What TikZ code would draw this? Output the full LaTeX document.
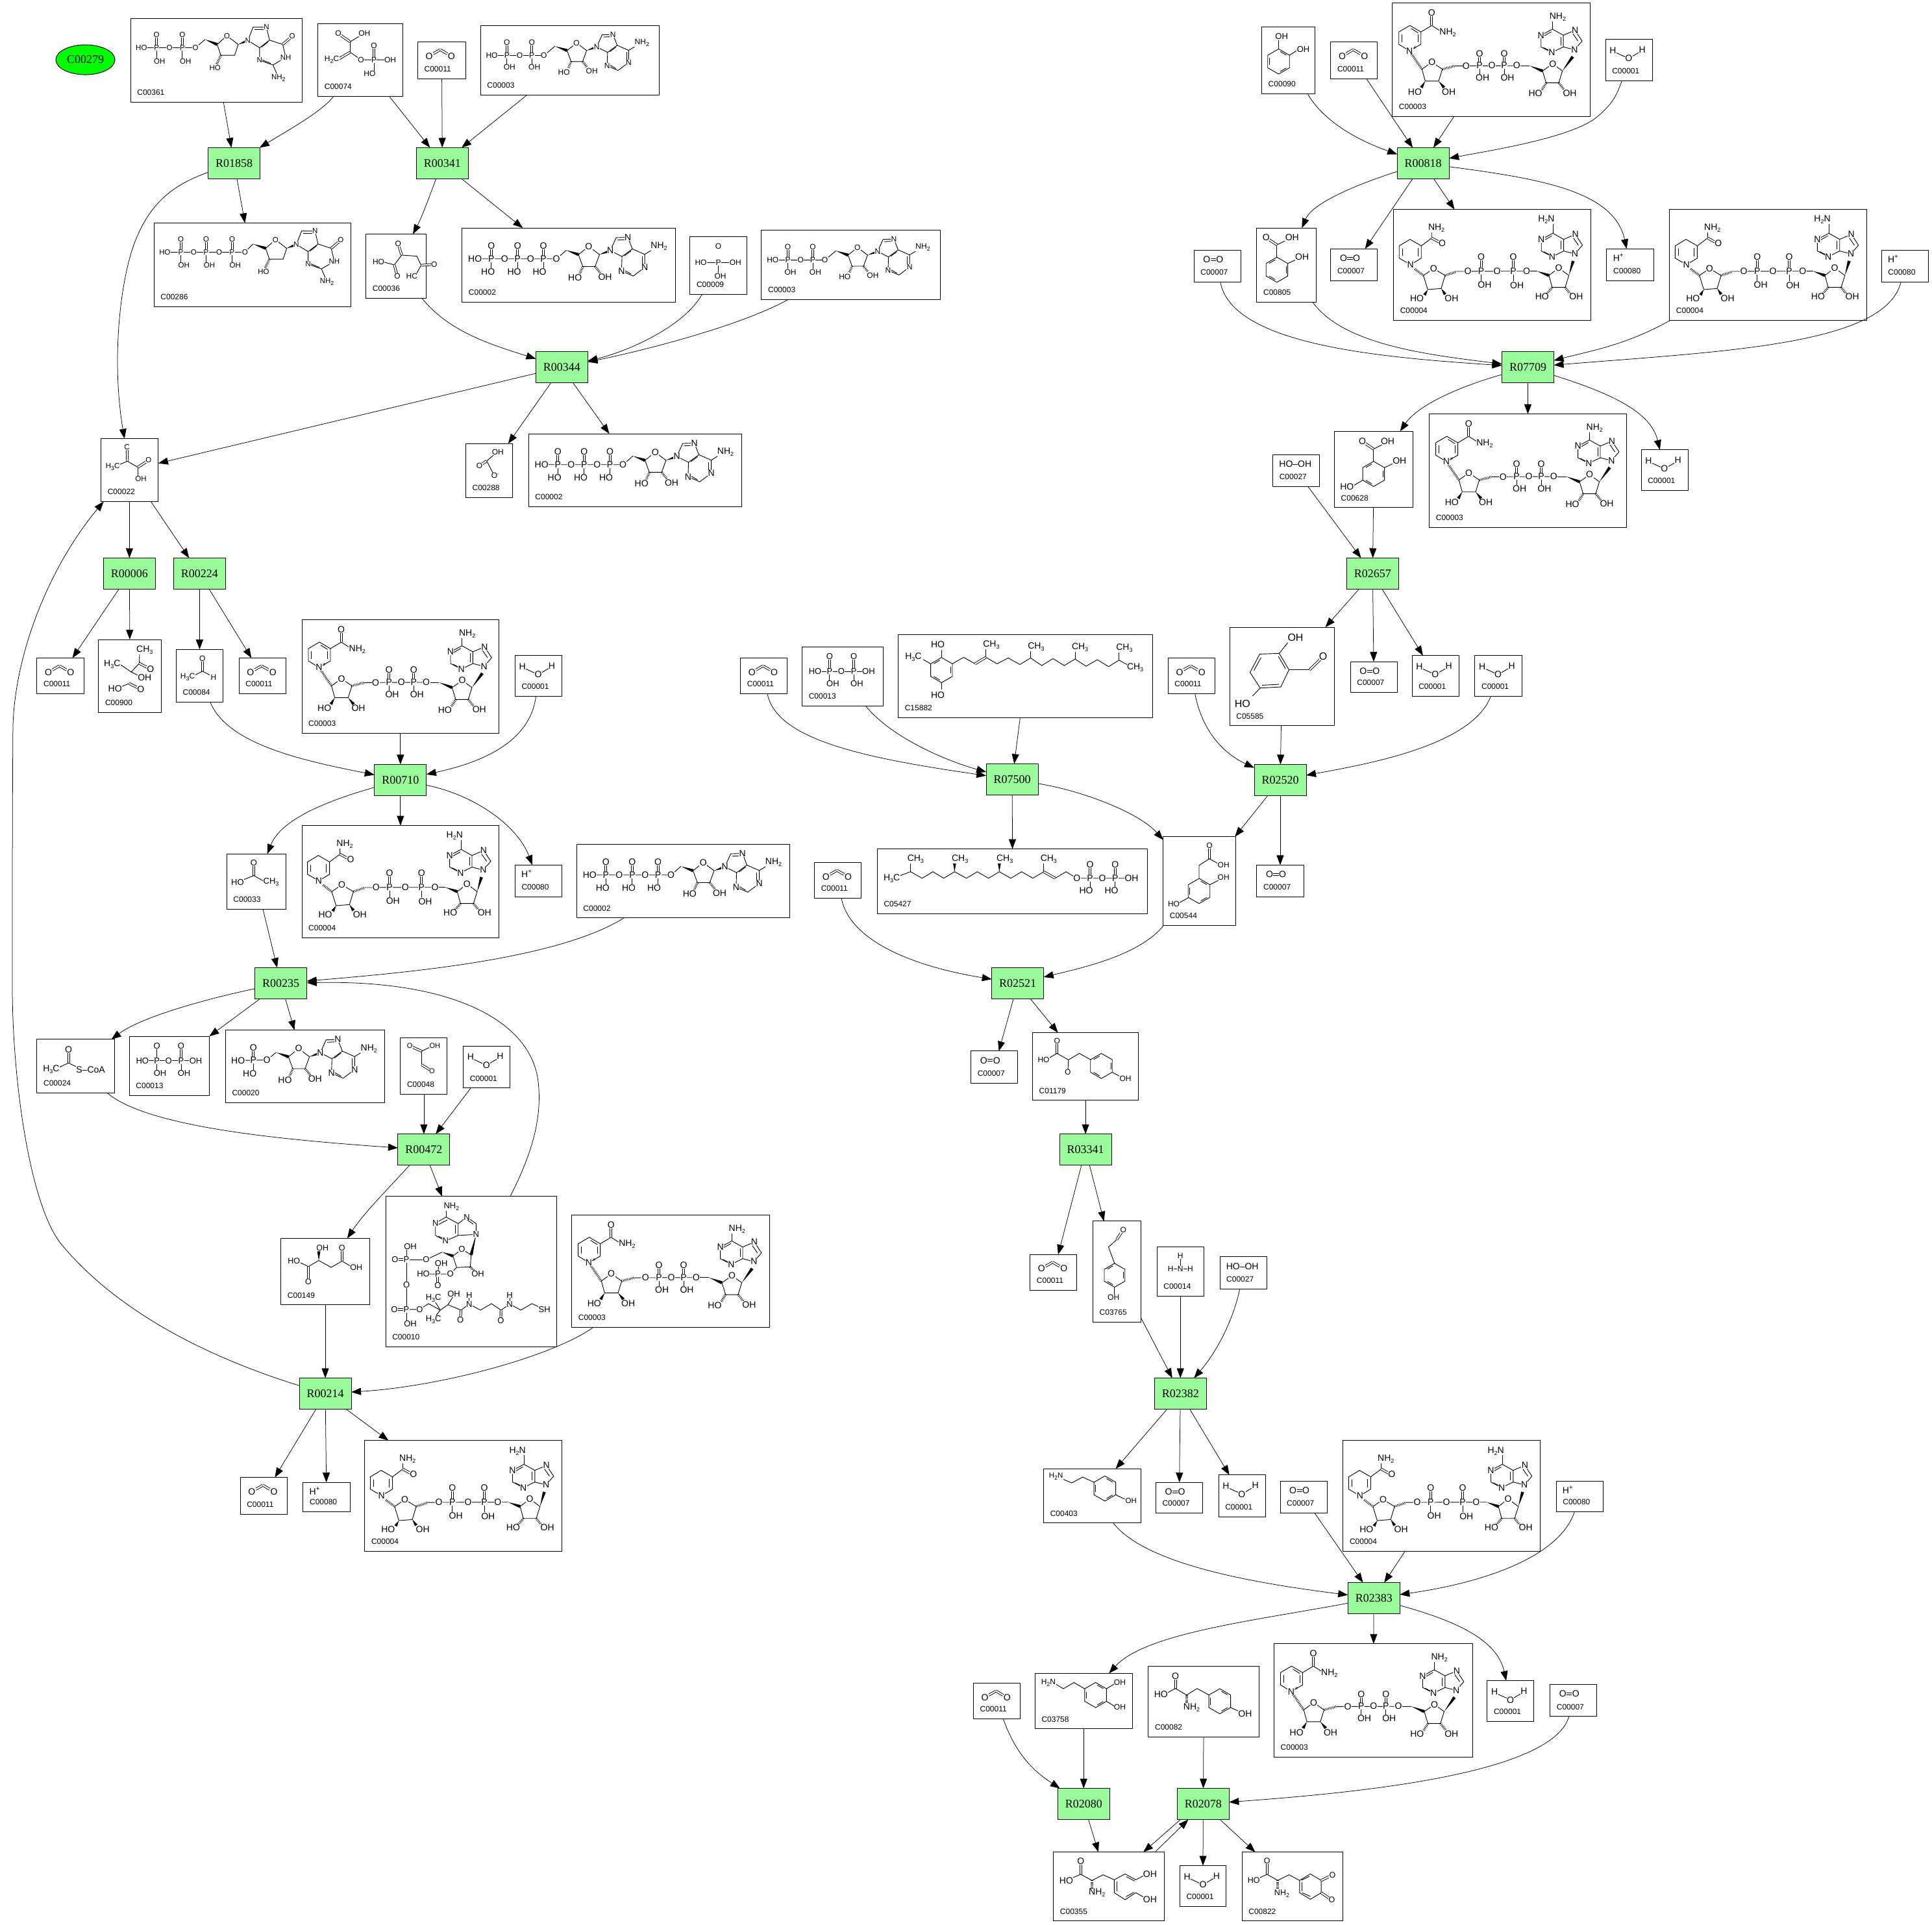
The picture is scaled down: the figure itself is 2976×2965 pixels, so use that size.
\documentclass[tikz,border=0pt]{standalone}
\usepackage{fontspec}
\setmainfont{Liberation Sans}
\newfontfamily\rfont{Liberation Serif}
\usetikzlibrary{arrows.meta,calc,shapes.geometric}
\definecolor{rgreen}{HTML}{9AFB9A}
\newcount\atomn
\def\afs{14}
\tikzset{
 cbox/.style={draw,fill=white,line width=1pt,inner sep=0pt,outer sep=0pt},
 clab/.style={anchor=west,inner sep=0pt,font=\fontsize{12}{12}\selectfont},
 rbox/.style={draw,fill=rgreen,line width=1pt,minimum width=80pt,minimum height=48pt,inner sep=0pt,outer sep=0pt,font=\rfont\fontsize{18}{18}\selectfont},
 sbox/.style={draw,fill=green,ellipse,line width=1pt,minimum width=91pt,minimum height=46pt,inner sep=0pt,outer sep=0pt,font=\rfont\fontsize{18}{18}\selectfont},
 e/.style={-{Triangle[length=15pt,width=11pt]},line width=.75pt},
 bond/.style={line width=.9pt},
 atom/.style={fill=white,inner sep=.4pt,font=\fontsize{\afs}{\afs}\selectfont},
}
\newcommand\Atm[4][]{\global\advance\atomn by 1 \node[atom,#1] (m\the\atomn) at (#2,#3) {#4};}
\newcommand\lo[1]{\raisebox{-3pt}{\fontsize{9}{9}\selectfont #1}}
\newcommand\Bo[1]{\draw[bond] #1;}
\newcommand\Dbl[1]{\draw[bond,double,double distance=2.1pt] #1;}
\newcommand\Wdg[4]{\fill (#1,#2) -- ($(#3,#4)!2.4pt!90:(#1,#2)$) -- ($(#3,#4)!2.4pt!-90:(#1,#2)$) -- cycle;}
\newcommand\Hsh[4]{\draw[line width=3.6pt,dash pattern=on .8pt off 1.5pt] (#1,#2) -- (#3,#4);}
\newcommand\Hex[4]{\draw[bond,shift={(#1,#2)}] (30:#3)--(90:#3)--(150:#3)--(210:#3)--(270:#3)--(330:#3)--cycle;
 \foreach \a in {0,120,240}{\draw[bond,shift={(#1,#2)}] ({#4+\a+10}:{#3*.8}) -- ({#4+\a+50}:{#3*.8});}}
\newcommand\Cp[6]{\pgfmathsetmacro\cpw{(#4-#2)*1.89796}\pgfmathsetmacro\cph{(#5-#3)*1.89796}%
 \node[cbox,minimum width=\cpw pt,minimum height=\cph pt] (#1) at ({(#2+#4)/2},{(#3+#5)/2}) {};
 \node[clab] (#1l) at ([xshift=10pt,yshift=15pt]#1.south west) {#6};}
\newcommand\Rx[3]{\node[rbox] (#1) at (#2,#3) {#1};}
\newcommand\Mol[5]{\begin{scope}[shift={(#1.north west)},x=.33333pt,y=-.33333pt,shift={(-#2,-#3)}]\def\afs{#4}#5\end{scope}}
\newcommand\Mm[2]{\Mol{#1}{0}{0}{14}{#2}}
% small molecules
\newcommand\COtwo{\Dbl{(71,55)--(104,36)}\Dbl{(104,36)--(137,55)}\Atm{53}{65}{O}\Atm{156}{65}{O}}
\newcommand\Water{\Bo{(50,62)--(107,88)--(155,60)}\Atm{34}{50}{H}\Atm{170}{47}{H}\Atm{107}{88}{O}}
\newcommand\Otwo{\Dbl{(59,43)--(119,43)}\Atm{59}{43}{O}\Atm{119}{43}{O}}
\newcommand\Hp{\Atm{54}{40}{H\textsuperscript{+}}}
\newcommand\HOOH{\Atm{104}{44}{HO–OH}}
% ribose + adenine, horizontal, origin at C4'
\newcommand\RibAde[3]{\begin{scope}[shift={(#1,#2)},scale=#3]
 \Bo{(0,0)--(47,-38)--(97,0)--(77,55)--(20,55)--cycle}
 \Hsh{20}{55}{6}{88}\Hsh{77}{55}{100}{84}\Wdg{97}{0}{147}{-18}
 \Bo{(147,-18)--(174,-78)--(228,-80)--(249,-26)--(201,9)--(147,-18)}
 \Bo{(201,9)--(199,76)--(253,99)--(306,59)--(306,-1)--(249,-26)}
 \Bo{(306,-1)--(345,-25)}\Bo{(180,-67)--(218,-69)}\Bo{(212,6)--(243,-17)}\Bo{(208,70)--(243,90)}\Bo{(295,52)--(295,8)}
 \Atm{147}{-18}{N}\Atm{228}{-80}{N}\Atm{199}{76}{N}\Atm{306}{59}{N}\Atm{372}{-38}{NH\lo{2}}
 \Atm{47}{-38}{O}\Atm{-16}{108}{HO}\Atm{123}{103}{OH}
\end{scope}}
% ribose + guanine, origin at C4'
\newcommand\DGua[2]{\begin{scope}[shift={(#1,#2)}]
 \Bo{(0,0)--(45,-40)--(97,0)--(81,50)--(17,50)--cycle}
 \Hsh{17}{50}{-2}{90}\Wdg{97}{0}{142}{-18}
 \Bo{(142,-18)--(166,-80)--(228,-80)--(242,-20)--(196,15)--(142,-18)}
 \Bo{(196,15)--(196,73)--(258,95)--(317,60)--(303,0)--(242,-20)}\Bo{(258,95)--(275,135)}
 \Bo{(172,-70)--(218,-70)}\Bo{(206,12)--(236,-12)}\Bo{(205,70)--(248,88)}\Dbl{(303,0)--(340,-32)}
 \Atm{142}{-18}{N}\Atm{228}{-80}{N}\Atm{196}{73}{N}\Atm{317}{60}{NH}\Atm{347}{-40}{O}\Atm{283}{155}{NH\lo{2}}
 \Atm{45}{-40}{O}\Atm{-10}{107}{HO}
\end{scope}}
% vertical adenine, origin at C6
\newcommand\AdeV[1]{\begin{scope}[shift={#1}]
 \Bo{(0,0)--(-53,28)--(-53,82)--(-3,108)--(50,82)--(50,28)--(0,0)}
 \Bo{(50,28)--(104,5)--(137,55)--(102,95)--(50,82)}
 \Bo{(-5,12)--(-40,32)}\Bo{(-42,85)--(-12,100)}\Bo{(38,35)--(38,75)}\Bo{(95,22)--(118,55)}
 \Atm{-53}{28}{N}\Atm{-3}{108}{N}\Atm{104}{5}{N}\Atm{102}{95}{N}
\end{scope}}
\newcommand\NADm{
 \Bo{(127,118)--(178,148)--(178,205)--(125,235)--(76,205)--(76,148)--cycle}
 \Bo{(90,160)--(90,195)}\Bo{(133,132)--(165,152)}\Bo{(165,160)--(165,195)}
 \Bo{(178,148)--(228,118)--(262,140)}\Dbl{(228,118)--(228,70)}
 \Hsh{135}{250}{183}{320}
 \Bo{(183,320)--(229,287)--(277,320)--(260,375)--(198,375)--cycle}
 \Wdg{198}{375}{180}{405}\Wdg{260}{375}{285}{405}\Hsh{277}{320}{335}{305}
 \Bo{(335,305)--(606,304)}\Dbl{(449,247)--(449,303)}\Dbl{(563,247)--(563,303)}\Bo{(449,303)--(449,345)}\Bo{(563,303)--(563,345)}
 \Bo{(606,304)--(680,304)}\Wdg{680}{304}{740}{328}
 \Bo{(740,328)--(787,295)--(832,328)--(815,383)--(757,383)--cycle}
 \Hsh{757}{383}{737}{415}\Hsh{815}{383}{838}{412}\Wdg{832}{328}{880}{262}
 \AdeV{(786,135)}\Bo{(786,135)--(786,95)}
 \Atm{228}{60}{O}\Atm{302}{150}{NH\lo{2}}\Atm{125}{235}{N}\Atm[fill=none]{150}{222}{\fontsize{9}{9}\selectfont +}
 \Atm{229}{287}{O}\Atm{150}{424}{HO}\Atm{307}{424}{OH}
 \Atm{387}{305}{O}\Atm{449}{303}{P}\Atm{506}{303}{O}\Atm{563}{303}{P}\Atm{621}{303}{O}
 \Atm{449}{247}{O}\Atm{563}{247}{O}\Atm{463}{360}{OH}\Atm{578}{360}{OH}
 \Atm{787}{295}{O}\Atm{707}{432}{HO}\Atm{866}{430}{OH}\Atm{810}{80}{NH\lo{2}}}
\newcommand\NADHm{
 \Bo{(128,178)--(180,208)--(180,265)--(130,295)--(78,265)--(78,208)--cycle}
 \Bo{(92,220)--(92,255)}\Bo{(165,218)--(165,258)}
 \Bo{(180,208)--(228,172)--(228,135)}\Dbl{(228,172)--(270,195)}
 \Hsh{150}{315}{190}{345}
 \Bo{(190,345)--(237,313)--(290,345)--(272,405)--(210,410)--cycle}
 \Wdg{210}{410}{195}{435}\Wdg{272}{405}{290}{432}\Hsh{290}{345}{340}{328}
 \Bo{(340,326)--(715,325)}\Dbl{(457,260)--(457,325)}\Dbl{(605,258)--(605,325)}\Bo{(457,325)--(457,370)}\Bo{(605,325)--(605,370)}
 \Wdg{715}{325}{770}{345}
 \Bo{(770,345)--(815,310)--(862,345)--(845,400)--(785,400)--cycle}
 \Hsh{785}{400}{760}{430}\Hsh{845}{400}{868}{430}\Wdg{862}{345}{882}{278}
 \AdeV{(788,150)}\Bo{(788,150)--(788,105)}
 \Atm{250}{125}{NH\lo{2}}\Atm{277}{197}{O}\Atm{130}{295}{N}
 \Atm{237}{313}{O}\Atm{160}{450}{HO}\Atm{320}{450}{OH}
 \Atm{395}{325}{O}\Atm{457}{325}{P}\Atm{530}{325}{O}\Atm{605}{325}{P}\Atm{667}{325}{O}
 \Atm{457}{260}{O}\Atm{605}{258}{O}\Atm{473}{387}{OH}\Atm{622}{390}{OH}
 \Atm{815}{310}{O}\Atm{738}{443}{HO}\Atm{896}{443}{OH}\Atm{758}{88}{H\lo{2}N}}
\newcommand\ATPm{
 \Bo{(60,143)--(436,143)--(482,103)}\Wdg{482}{103}{538}{123}
 \Dbl{(135,83)--(135,143)}\Dbl{(257,83)--(257,143)}\Dbl{(376,83)--(376,143)}
 \Bo{(135,143)--(135,190)}\Bo{(257,143)--(257,190)}\Bo{(376,143)--(376,190)}
 \RibAde{538}{123}{1}
 \Atm{60}{143}{HO}\Atm{135}{143}{P}\Atm{197}{143}{O}\Atm{257}{143}{P}\Atm{317}{143}{O}\Atm{376}{143}{P}\Atm{436}{143}{O}
 \Atm{135}{83}{O}\Atm{257}{83}{O}\Atm{376}{83}{O}\Atm{120}{203}{HO}\Atm{241}{203}{HO}\Atm{358}{203}{HO}}
\newcommand\ADPm{
 \Bo{(52,137)--(293,137)--(344,94)}\Wdg{344}{94}{400}{114}
 \Dbl{(122,77)--(122,137)}\Dbl{(237,77)--(237,137)}\Bo{(122,137)--(122,180)}\Bo{(237,137)--(237,180)}
 \RibAde{400}{114}{.93}
 \Atm{52}{137}{HO}\Atm{122}{137}{P}\Atm{181}{137}{O}\Atm{237}{137}{P}\Atm{293}{137}{O}
 \Atm{122}{77}{O}\Atm{237}{77}{O}\Atm{134}{192}{OH}\Atm{249}{192}{OH}}
\begin{document}
\begin{tikzpicture}[x=1.89796pt,y=-1.89796pt]
\useasboundingbox (0pt,0pt) rectangle (2976pt,-2965pt);
\fill[white] (0pt,0pt) rectangle (2976pt,-2965pt);
% ---------- reactions
\node[sbox] (C00279) at (69.3,48.5) {C00279};
\Rx{R01858}{190}{132.5}\Rx{R00341}{359}{132.5}\Rx{R00344}{456}{298}\Rx{R00006}{105}{465.5}\Rx{R00224}{162}{465.5}
\Rx{R00710}{325}{633}\Rx{R00235}{228}{798}\Rx{R00472}{344}{933}\Rx{R00214}{264}{1131}
\Rx{R00818}{1155}{132.5}\Rx{R07709}{1240}{298}\Rx{R02657}{1114}{465.5}\Rx{R02520}{1039}{633}\Rx{R07500}{821.5}{632.5}
\Rx{R02521}{826}{798}\Rx{R03341}{881}{933}\Rx{R02382}{958}{1131}\Rx{R02383}{1115}{1297}\Rx{R02080}{879.5}{1464}\Rx{R02078}{976.5}{1464}
% ---------- compounds
\Cp{a361}{106}{15}{245}{83}{C00361}\Cp{a74}{258}{19}{327}{78}{C00074}\Cp{a11a}{339}{34}{378}{64}{C00011}\Cp{adpa}{390}{21}{535}{77}{C00003}
\Cp{a286}{125}{181}{285}{249}{C00286}\Cp{a36}{297}{190}{346}{242}{C00036}\Cp{a2a}{375}{185}{548}{245}{C00002}\Cp{a9}{560}{192}{606}{239}{C00009}\Cp{adpb}{618}{187}{763}{243}{C00003}
\Cp{a22}{82}{356}{128.5}{407}{C00022}\Cp{a288}{378}{360}{416}{404}{C00288}\Cp{a2b}{429}{352}{602}{411}{C00002}
\Cp{a11b}{30}{534}{68}{563}{C00011}\Cp{a900}{80}{519}{131}{578}{C00900}\Cp{a84}{143}{527}{181}{570}{C00084}\Cp{a11c}{194}{534}{232}{563}{C00011}
\Cp{n3a}{245}{503}{405}{595}{C00003}\Cp{a1a}{418}{532}{456}{565}{C00001}
\Cp{a33}{184}{693}{232}{738}{C00033}\Cp{n4a}{245}{670}{405}{761}{C00004}\Cp{h80a}{418}{702}{456}{728}{C00080}\Cp{a2c}{468}{685}{641}{745}{C00002}
\Cp{a24}{30}{843.5}{93}{887}{C00024}\Cp{a13a}{105}{841}{170}{889}{C00013}\Cp{a20}{183}{836}{312}{895}{C00020}\Cp{a48}{325}{842}{363}{888}{C00048}\Cp{a1b}{376}{849}{414}{883}{C00001}
\Cp{a149}{228}{1005}{300}{1059}{C00149}\Cp{a10}{313}{971}{452}{1093}{C00010}\Cp{n3b}{464}{986}{624.6}{1077}{C00003}
\Cp{a11d}{195}{1199}{233}{1229}{C00011}\Cp{h80b}{246}{1203}{284}{1227}{C00080}\Cp{n4b}{296}{1169}{456}{1259}{C00004}
\Cp{a11e}{601}{534}{639}{563}{C00011}\Cp{a13b}{651}{525}{717}{573}{C00013}\Cp{a15882}{729}{515}{935.5}{582.5}{C15882}
\Cp{a5427}{712}{689}{931.5}{741.5}{C05427}\Cp{a11f}{661}{700}{699}{729}{C00011}\Cp{a544}{944}{679}{1003}{751}{C00544}
\Cp{a7a}{788}{853}{826}{879}{C00007}\Cp{a1179}{838}{838}{924}{893}{C01179}\Cp{a11g}{836}{1018}{874}{1047}{C00011}\Cp{a3765}{887}{991}{926}{1073}{C03765}
\Cp{a14}{939}{1012}{977}{1052}{C00014}\Cp{a27a}{990}{1020}{1028}{1046}{C00027}\Cp{a403}{847}{1192}{926}{1236}{C00403}\Cp{a7b}{938}{1203}{976}{1228}{C00007}\Cp{a1c}{989}{1197}{1027}{1231}{C00001}
\Cp{a7c}{1039}{1202}{1077}{1228}{C00007}\Cp{n4c}{1090}{1169}{1250}{1259}{C00004}\Cp{h80c}{1263}{1202}{1301}{1227}{C00080}
\Cp{a3758}{840}{1358}{919}{1403}{C03758}\Cp{a82}{932}{1352}{1022}{1409.5}{C00082}\Cp{n3c}{1034}{1334}{1195}{1426}{C00003}\Cp{a1d}{1207}{1364}{1245}{1397}{C00001}\Cp{a7d}{1258}{1367}{1296}{1393}{C00007}\Cp{a11h}{790}{1366}{828}{1395}{C00011}
\Cp{a355}{855}{1503}{945}{1559}{C00355}\Cp{a1e}{957.5}{1514}{995}{1547}{C00001}\Cp{a822}{1008}{1503}{1090}{1559}{C00822}
\Cp{a90}{1024}{22}{1067}{76}{C00090}\Cp{a11i}{1080}{34}{1118}{64}{C00011}\Cp{n3d}{1130}{2.6}{1290.5}{94.6}{C00003}\Cp{a1f}{1303}{32}{1341}{65.5}{C00001}
\Cp{a805}{1020}{185}{1068}{245}{C00805}\Cp{a7e}{1080}{202}{1118}{228}{C00007}\Cp{n4d}{1131}{170}{1291}{260}{C00004}\Cp{h80d}{1304}{202}{1342}{228}{C00080}
\Cp{n4e}{1355}{170}{1515}{260}{C00004}\Cp{h80e}{1527}{203}{1565}{229}{C00080}\Cp{a7f}{969}{203}{1007}{229}{C00007}
\Cp{a628}{1083}{350}{1147}{412}{C00628}\Cp{n3e}{1160}{336}{1320}{428}{C00003}\Cp{a1g}{1332}{365}{1370}{398}{C00001}\Cp{a27b}{1033}{369}{1071}{395}{C00027}
\Cp{a5585}{998}{509}{1083}{589}{C05585}\Cp{a7g}{1096}{537}{1134}{562}{C00007}\Cp{a1h}{1146}{532}{1184}{565}{C00001}\Cp{a1i}{1197}{532}{1235}{565}{C00001}\Cp{a11j}{948}{534}{986}{563}{C00011}\Cp{a7h}{1020}{702}{1058}{728}{C00007}
% ---------- edges
\draw[e] (a361)--(R01858);
\draw[e] (a74) .. controls (262,90) and (235,105) .. (R01858);
\draw[e] (a74)--(R00341);\draw[e] (a11a)--(R00341);\draw[e] (adpa)--(R00341);
\draw[e] (R01858) .. controls (140,150) and (122,165) .. (110,195) .. controls (98,225) and (90,290) .. (a22);
\draw[e] (R01858)--(a286);
\draw[e] (R00341) .. controls (352,150) and (343,175) .. (a36);
\draw[e] (R00341)--(a2a);
\draw[e] (a36) .. controls (365,270) and (400,280) .. (R00344);
\draw[e] (a9) .. controls (555,265) and (510,285) .. (R00344);
\draw[e] (adpb) .. controls (600,265) and (520,285) .. (R00344);
\draw[e] (R00344)--(a22);\draw[e] (R00344)--(a288);\draw[e] (R00344)--(a2b);
\draw[e] (a22)--(R00006);\draw[e] (a22)--(R00224);
\draw[e] (R00006)--(a11b);\draw[e] (R00006)--(a900);\draw[e] (R00224)--(a84);\draw[e] (R00224)--(a11c);
\draw[e] (a84) .. controls (185,605) and (250,618) .. (R00710);
\draw[e] (n3a)--(R00710);
\draw[e] (a1a) .. controls (430,605) and (385,620) .. (R00710);
\draw[e] (R00710) .. controls (265,650) and (228,665) .. (a33);
\draw[e] (R00710)--(n4a);
\draw[e] (R00710) .. controls (385,645) and (420,670) .. (h80a);
\draw[e] (a33)--(R00235);
\draw[e] (a2c) .. controls (450,780) and (320,790) .. (R00235);
\draw[e] (R00235) .. controls (170,810) and (115,825) .. (a24);
\draw[e] (R00235)--(a13a);\draw[e] (R00235)--(a20);
\draw[e] (a24) .. controls (120,915) and (230,925) .. (R00472);
\draw[e] (a48)--(R00472);\draw[e] (a1b)--(R00472);
\draw[e] (R00472) .. controls (310,970) and (295,985) .. (a149);
\draw[e] (R00472)--(a10);
\draw[e] (a10) .. controls (430,940) and (440,910) .. (437,880) .. controls (433,830) and (370,795) .. (R00235);
\draw[e] (a149)--(R00214);
\draw[e] (n3b) .. controls (450,1100) and (360,1125) .. (R00214);
\draw[e] (R00214) .. controls (180,1105) and (100,1070) .. (50,1010) .. controls (25,980) and (10,880) .. (10,800) .. controls (10,730) and (10,660) .. (10.5,590) .. controls (12,530) and (40,460) .. (a22);
\draw[e] (R00214)--(a11d);\draw[e] (R00214)--(h80b);\draw[e] (R00214)--(n4b);
\draw[e] (a90) .. controls (1075,100) and (1105,115) .. (R00818);
\draw[e] (a11i)--(R00818);\draw[e] (n3d)--(R00818);
\draw[e] (a1f) .. controls (1312,78) and (1308,85) .. (1296,95) .. controls (1275,112) and (1210,122) .. (R00818);
\draw[e] (R00818) .. controls (1100,150) and (1065,165) .. (a805);
\draw[e] (R00818)--(a7e);\draw[e] (R00818)--(n4d);
\draw[e] (R00818) .. controls (1250,145) and (1310,155) .. (h80d);
\draw[e] (a7f) .. controls (1000,280) and (1120,290) .. (R07709);
\draw[e] (a805) .. controls (1090,280) and (1160,288) .. (R07709);
\draw[e] (n4e) .. controls (1320,280) and (1290,285) .. (R07709);
\draw[e] (h80e) .. controls (1530,280) and (1400,285) .. (R07709);
\draw[e] (R07709) .. controls (1180,315) and (1150,330) .. (a628);
\draw[e] (R07709)--(n3e);
\draw[e] (R07709) .. controls (1310,320) and (1340,335) .. (a1g);
\draw[e] (a27b)--(R02657);\draw[e] (a628)--(R02657);
\draw[e] (R02657)--(a5585);\draw[e] (R02657)--(a7g);\draw[e] (R02657)--(a1h);
\draw[e] (a11j) .. controls (975,590) and (990,610) .. (R02520);
\draw[e] (a5585)--(R02520);
\draw[e] (a1i) .. controls (1195,605) and (1110,620) .. (R02520);
\draw[e] (R02520)--(a544);\draw[e] (R02520)--(a7h);
\draw[e] (a11e) .. controls (630,600) and (700,615) .. (R07500);
\draw[e] (a13b) .. controls (720,595) and (760,615) .. (R07500);
\draw[e] (a15882)--(R07500);\draw[e] (R07500)--(a5427);
\draw[e] (R07500) .. controls (880,642) and (925,660) .. (a544);
\draw[e] (a11f) .. controls (690,765) and (745,785) .. (R02521);
\draw[e] (a544) .. controls (925,775) and (880,785) .. (R02521);
\draw[e] (R02521)--(a7a);\draw[e] (R02521)--(a1179);\draw[e] (a1179)--(R03341);
\draw[e] (R03341)--(a11g);\draw[e] (R03341)--(a3765);
\draw[e] (a3765)--(R02382);\draw[e] (a14)--(R02382);
\draw[e] (a27a) .. controls (1000,1075) and (985,1100) .. (R02382);
\draw[e] (R02382)--(a403);\draw[e] (R02382)--(a7b);\draw[e] (R02382)--(a1c);
\draw[e] (a403) .. controls (930,1270) and (1020,1285) .. (R02383);
\draw[e] (a7c)--(R02383);\draw[e] (n4c)--(R02383);
\draw[e] (h80c) .. controls (1265,1265) and (1200,1285) .. (R02383);
\draw[e] (R02383) .. controls (1020,1315) and (930,1325) .. (a3758);
\draw[e] (R02383)--(n3c);
\draw[e] (R02383) .. controls (1180,1315) and (1215,1330) .. (a1d);
\draw[e] (a11h) .. controls (825,1425) and (840,1438) .. (R02080);
\draw[e] (a3758)--(R02080);\draw[e] (a82)--(R02078);
\draw[e] (a7d) .. controls (1260,1440) and (1100,1455) .. (R02078);
\draw[e] ([xshift=-35pt]R02078.south)--([xshift=53pt]a355.north);
\draw[e] ([xshift=71pt]a355.north)--([xshift=-23pt]R02078.south);
\draw[e] (R02080)--(a355);\draw[e] (R02078)--(a1e);\draw[e] (R02078)--(a822);
% ---------- repeated molecules
\foreach \n in {a11a,a11b,a11c,a11d,a11e,a11f,a11g,a11h,a11i,a11j}{\Mm{\n}{\COtwo}}
\foreach \n in {a1a,a1b,a1c,a1d,a1e,a1f,a1g,a1h,a1i}{\Mm{\n}{\Water}}
\foreach \n in {a7a,a7b,a7c,a7d,a7e,a7f,a7g,a7h}{\Mm{\n}{\Otwo}}
\foreach \n in {h80a,h80b,h80c,h80d,h80e}{\Mm{\n}{\Hp}}
\foreach \n in {a27a,a27b}{\Mm{\n}{\HOOH}}
\foreach \n in {n3a,n3b,n3c,n3d,n3e}{\Mol{\n}{46}{15}{14}{\NADm}}
\foreach \n in {n4a,n4b,n4c,n4d,n4e}{\Mol{\n}{52}{40}{14}{\NADHm}}
\foreach \n in {a2a,a2b,a2c}{\Mm{\n}{\ATPm}}
\foreach \n in {adpa,adpb}{\Mol{\n}{0}{0}{12}{\ADPm}}
% C00361
\Mol{a361}{0}{0}{11.5}{
 \Bo{(50,135)--(300,135)--(344,97)}\Wdg{344}{97}{400}{120}
 \Dbl{(120,75)--(120,135)}\Dbl{(239,75)--(239,135)}\Bo{(120,135)--(120,185)}\Bo{(239,135)--(239,185)}
 \DGua{400}{120}
 \Atm{50}{135}{HO}\Atm{120}{135}{P}\Atm{180}{135}{O}\Atm{239}{135}{P}\Atm{300}{135}{O}\Atm{120}{75}{O}\Atm{239}{75}{O}\Atm{134}{197}{OH}\Atm{254}{197}{OH}}
% C00286
\Mol{a286}{0}{0}{11.5}{
 \Bo{(50,135)--(420,135)--(458,97)}\Wdg{458}{97}{516}{117}
 \Dbl{(124,75)--(124,135)}\Dbl{(241,75)--(241,135)}\Dbl{(361,75)--(361,135)}\Bo{(124,135)--(124,185)}\Bo{(241,135)--(241,185)}\Bo{(361,135)--(361,185)}
 \DGua{516}{117}
 \Atm{50}{135}{HO}\Atm{124}{135}{P}\Atm{183}{135}{O}\Atm{241}{135}{P}\Atm{301}{135}{O}\Atm{361}{135}{P}\Atm{420}{135}{O}
 \Atm{124}{75}{O}\Atm{241}{75}{O}\Atm{361}{75}{O}\Atm{138}{195}{OH}\Atm{256}{195}{OH}\Atm{375}{195}{OH}}
% C00020
\Mm{a20}{
 \Bo{(58,140)--(191,138)--(234,103)}\Wdg{234}{103}{291}{123}
 \Dbl{(129,81)--(129,138)}\Bo{(129,138)--(129,188)}
 \RibAde{291}{123}{1}
 \Atm{58}{140}{HO}\Atm{129}{138}{P}\Atm{129}{81}{O}\Atm{112}{200}{HO}\Atm{191}{138}{O}}
% C00074
\Mol{a74}{0}{0}{12}{
 \Dbl{(94,47)--(149,85)}\Bo{(149,85)--(190,60)}\Bo{(149,85)--(149,133)}\Dbl{(149,133)--(95,165)}\Bo{(149,133)--(199,168)--(334,168)}
 \Dbl{(259,103)--(259,168)}\Bo{(259,168)--(259,220)}
 \Atm{94}{47}{O}\Atm{215}{47}{OH}\Atm{64}{168}{H\lo{2}C}\Atm{199}{168}{O}\Atm{259}{168}{P}\Atm{259}{103}{O}\Atm{334}{168}{OH}\Atm{239}{232}{HO}}
% C00036
\Mol{a36}{0}{0}{12}{
 \Dbl{(149,44)--(165,97)}\Bo{(165,97)--(131,142)--(85,130)}\Dbl{(131,142)--(145,194)}\Bo{(165,97)--(235,102)--(255,144)--(235,180)}\Dbl{(255,144)--(315,140)}
 \Atm{149}{44}{O}\Atm{58}{129}{HO}\Atm{145}{194}{O}\Atm{315}{140}{O}\Atm{212}{194}{HC}}
% C00009
\Mol{a9}{0}{0}{12}{
 \Bo{(50,120)--(210,120)}\Dbl{(131,45)--(131,120)}\Bo{(131,120)--(131,170)}
 \Atm{50}{120}{HO}\Atm{131}{120}{P}\Atm{131}{45}{O}\Atm{210}{120}{OH}\Atm{140}{182}{OH}}
% C00288
\Mol{a288}{0}{0}{12}{
 \Dbl{(63,102)--(97,80)}\Bo{(97,80)--(130,52)}\Bo{(97,80)--(125,135)}
 \Atm{63}{102}{O}\Atm{148}{40}{OH}\Atm{137}{148}{O\textsuperscript{-}}}
% C00022
\Mol{a22}{0}{0}{11.5}{
 \Dbl{(120,40)--(122,104)}\Bo{(80,122)--(122,104)--(170,132)}\Dbl{(170,132)--(220,100)}\Bo{(170,132)--(170,172)}
 \Atm{120}{40}{C}\Atm{54}{130}{H\lo{3}C}\Atm{220}{100}{O}\Atm{184}{186}{OH}}
% C00900
\Mm{a900}{
 \Bo{(190,60)--(188,110)--(151,150)--(100,115)}\Dbl{(188,110)--(240,137)}\Bo{(151,150)--(195,172)}\Bo{(100,220)--(141,203)}\Dbl{(141,203)--(195,230)}
 \Atm{213}{48}{CH\lo{3}}\Atm{240}{137}{O}\Atm{63}{115}{H\lo{3}C}\Atm{213}{175}{OH}\Atm{76}{228}{HO}\Atm{195}{230}{O}}
% C00084
\Mol{a84}{0}{0}{12}{
 \Dbl{(121,43)--(121,101)}\Bo{(85,120)--(121,101)--(155,118)}
 \Atm{121}{43}{O}\Atm{53}{128}{H\lo{3}C}\Atm{173}{128}{H}}
% C00033
\Mol{a33}{0}{0}{13}{
 \Dbl{(125,40)--(125,100)}\Bo{(75,120)--(125,100)--(170,125)}
 \Atm{125}{40}{O}\Atm{50}{130}{HO}\Atm{205}{130}{CH\lo{3}}}
% C00024
\Mm{a24}{
 \Dbl{(146,47)--(146,109)}\Bo{(100,130)--(146,109)--(190,130)}
 \Atm{146}{47}{O}\Atm{66}{140}{H\lo{3}C}\Atm{248}{140}{S–CoA}}
% C00013
\Mol{a13a}{0}{0}{13}{
 \Bo{(60,113)--(307,113)}\Dbl{(239,44)--(239,113)}\Bo{(127,44)--(127,160)}\Bo{(239,113)--(239,160)}
 \Atm{60}{113}{HO}\Atm{127}{113}{P}\Atm{127}{44}{O}\Atm{181}{113}{O}\Atm{239}{113}{P}\Atm{239}{44}{O}\Atm{307}{113}{OH}\Atm{142}{170}{OH}\Atm{253}{170}{OH}}
\Mol{a13b}{0}{0}{13}{
 \Bo{(60,113)--(307,113)}\Dbl{(127,44)--(127,113)}\Dbl{(239,44)--(239,113)}\Bo{(127,113)--(127,160)}\Bo{(239,113)--(239,160)}
 \Atm{60}{113}{HO}\Atm{127}{113}{P}\Atm{127}{44}{O}\Atm{181}{113}{O}\Atm{239}{113}{P}\Atm{239}{44}{O}\Atm{307}{113}{OH}\Atm{142}{170}{OH}\Atm{253}{170}{OH}}
% C00048
\Mol{a48}{0}{0}{11}{
 \Dbl{(43,39)--(98,63)}\Bo{(98,63)--(135,45)}\Bo{(98,63)--(98,126)}\Dbl{(98,126)--(146,156)}
 \Atm{43}{39}{O}\Atm{159}{39}{OH}\Atm{146}{156}{O}}
% C00149
\Mol{a149}{0}{0}{12.5}{
 \Bo{(85,110)--(127,130)--(175,102)--(232,134)--(282,105)--(325,130)}\Dbl{(127,130)--(127,200)}\Dbl{(282,43)--(282,105)}\Wdg{175}{102}{175}{60}
 \Atm{60}{105}{HO}\Atm{127}{200}{O}\Atm{192}{43}{OH}\Atm{282}{43}{O}\Atm{348}{133}{OH}}
% C00010
\Mol{a10}{0}{0}{13}{
 \Bo{(279,95)--(230,123)--(230,180)--(277,205)--(335,180)--(335,125)--(279,95)}
 \Bo{(335,125)--(375,95)--(418,125)--(418,175)--(335,180)}\Bo{(285,108)--(243,130)}\Bo{(243,183)--(270,196)}\Bo{(323,132)--(323,172)}\Bo{(405,128)--(378,108)}
 \Bo{(279,95)--(279,65)}\Wdg{418}{175}{395}{270}
 \Bo{(311,275)--(352,243)--(395,270)--(391,325)--(328,328)--cycle}\Wdg{261}{257}{311}{275}\Bo{(187,292)--(261,257)}
 \Bo{(96,292)--(187,292)}\Dbl{(43,292)--(96,292)}\Bo{(96,292)--(96,522)}\Bo{(96,232)--(96,292)}
 \Dbl{(40,522)--(96,522)}\Bo{(96,522)--(96,580)}\Bo{(96,522)--(157,522)--(198,495)--(252,525)--(288,500)--(348,525)--(386,497)--(438,525)--(489,495)--(533,525)--(573,497)--(625,525)--(676,495)--(734,522)}
 \Bo{(252,525)--(225,480)}\Bo{(252,525)--(225,560)}\Bo{(288,500)--(310,465)}\Dbl{(348,525)--(345,570)}\Dbl{(533,525)--(532,572)}\Bo{(386,497)--(386,465)}\Bo{(573,497)--(573,465)}
 \Bo{(174,358)--(299,358)--(328,328)}\Dbl{(241,358)--(241,412)}\Bo{(241,358)--(245,320)}\Hsh{391}{325}{410}{345}
 \Atm{304}{47}{NH\lo{2}}\Atm{230}{123}{N}\Atm{277}{205}{N}\Atm{375}{95}{N}\Atm{418}{175}{N}\Atm{352}{243}{O}
 \Atm{187}{292}{O}\Atm{96}{292}{P}\Atm{43}{292}{O}\Atm{114}{232}{OH}\Atm{96}{407}{O}\Atm{96}{522}{P}\Atm{40}{522}{O}\Atm{114}{587}{OH}\Atm{157}{522}{O}
 \Atm{221}{470}{H\lo{3}C}\Atm{221}{570}{H\lo{3}C}\Atm{315}{450}{OH}\Atm{345}{570}{O}\Atm{386}{497}{N}\Atm{386}{455}{H}\Atm{532}{572}{O}\Atm{573}{497}{N}\Atm{573}{455}{H}\Atm{734}{522}{SH}
 \Atm{299}{358}{O}\Atm{241}{358}{P}\Atm{174}{358}{HO}\Atm{257}{308}{OH}\Atm{241}{412}{O}\Atm{426}{358}{OH}}
% C15882
\Mm{a15882}{
 \Hex{200}{164}{58}{90}\Bo{(200,106)--(200,70)}\Bo{(200,222)--(200,255)}\Bo{(150,135)--(115,115)}
 \Bo{(250,135)--(302,105)--(355,135)}\Dbl{(355,135)--(405,105)}\Bo{(405,105)--(457,135)--(508,108)--(562,138)--(612,108)--(663,143)--(715,111)--(767,143)--(817,113)--(868,146)--(920,116)--(972,148)--(1020,118)--(1060,140)}
 \Bo{(405,105)--(405,60)}\Bo{(612,108)--(612,70)}\Bo{(817,113)--(817,73)}\Bo{(1020,118)--(1020,78)}
 \Atm{183}{45}{HO}\Atm{70}{103}{H\lo{3}C}\Atm{183}{281}{HO}\Atm{430}{46}{CH\lo{3}}\Atm{637}{55}{CH\lo{3}}\Atm{840}{58}{CH\lo{3}}\Atm{1045}{61}{CH\lo{3}}\Atm{1095}{151}{CH\lo{3}}}
% C05427
\Mm{a5427}{
 \Bo{(100,125)--(154,105)--(207,135)--(257,105)--(307,135)--(357,105)--(412,135)--(462,105)--(514,135)--(564,105)--(617,135)--(667,105)--(719,135)--(769,105)}
 \Dbl{(769,105)--(822,135)}\Bo{(822,135)--(872,105)--(922,135)--(1175,135)}
 \Bo{(154,105)--(154,65)}\Wdg{357}{105}{357}{65}\Wdg{564}{105}{564}{65}\Bo{(769,105)--(769,65)}
 \Dbl{(983,73)--(983,135)}\Dbl{(1099,73)--(1099,135)}\Bo{(983,135)--(983,180)}\Bo{(1099,135)--(1099,180)}
 \Atm{67}{135}{H\lo{3}C}\Atm{177}{47}{CH\lo{3}}\Atm{382}{47}{CH\lo{3}}\Atm{589}{47}{CH\lo{3}}\Atm{792}{47}{CH\lo{3}}
 \Atm{922}{135}{O}\Atm{983}{135}{P}\Atm{983}{73}{O}\Atm{965}{193}{HO}\Atm{1040}{135}{O}\Atm{1099}{135}{P}\Atm{1099}{73}{O}\Atm{1082}{193}{HO}\Atm{1175}{135}{OH}}
% C00090
\Mol{a90}{0}{0}{13}{
 \Hex{78}{159}{58}{30}\Bo{(78,60)--(78,101)}\Bo{(128,130)--(168,105)}
 \Atm{92}{43}{OH}\Atm{192}{103}{OH}}
% C00805
\Mol{a805}{0}{0}{14}{
 \Hex{93}{193}{58}{90}\Bo{(93,78)--(93,135)}\Dbl{(43,45)--(93,78)}\Bo{(93,78)--(130,60)}\Bo{(143,164)--(185,145)}
 \Atm{43}{45}{O}\Atm{163}{45}{OH}\Atm{209}{133}{OH}}
% C00628
\Mol{a628}{0}{0}{14}{
 \Hex{181}{197}{58}{90}\Bo{(181,82)--(181,139)}\Dbl{(129,47)--(181,82)}\Bo{(181,82)--(220,62)}\Bo{(231,168)--(275,147)}\Bo{(131,226)--(90,250)}
 \Atm{129}{47}{O}\Atm{246}{47}{OH}\Atm{301}{137}{OH}\Atm{58}{257}{HO}}
% C05585
\Mol{a5585}{0}{0}{16}{
 \Bo{(139,124)--(229,121)--(274,197)--(236,276)--(141,281)--(94,209)--cycle}
 \Bo{(145,140)--(112,200)}\Bo{(225,135)--(258,192)}\Bo{(150,268)--(228,264)}
 \Bo{(274,197)--(369,197)}\Dbl{(369,197)--(432,136)}\Bo{(229,121)--(268,72)}\Bo{(141,281)--(105,318)}
 \Atm{304}{49}{OH}\Atm{432}{136}{O}\Atm{59}{354}{HO}}
% C00544
\Mol{a544}{0}{0}{12}{
 \Hex{166}{251}{58}{30}\Dbl{(214,42)--(214,102)}\Bo{(214,102)--(255,125)}\Bo{(214,102)--(166,132)--(166,192)}\Bo{(216,222)--(258,200)}\Bo{(116,282)--(75,305)}
 \Atm{214}{42}{O}\Atm{279}{132}{OH}\Atm{279}{189}{OH}\Atm{49}{310}{HO}}
% C01179
\Mol{a1179}{0}{0}{12}{
 \Hex{318}{154}{58}{90}\Dbl{(113,39)--(113,96)}\Bo{(72,120)--(113,96)--(166,126)--(216,96)--(268,125)}\Bo{(166,126)--(163,183)}\Bo{(368,183)--(405,203)}
 \Atm{113}{39}{O}\Atm{51}{126}{HO}\Atm{163}{183}{O}\Atm{429}{213}{OH}}
% C03765
\Mol{a3765}{0}{0}{12}{
 \Hex{100}{250}{55}{90}\Dbl{(140,40)--(110,85)}\Bo{(110,85)--(72,120)--(100,195)}\Bo{(100,305)--(100,340)}
 \Atm{140}{40}{O}\Atm{95}{353}{OH}}
% C00014
\Mol{a14}{0}{0}{12}{\Bo{(63,102)--(154,102)}\Bo{(108,40)--(108,102)}\Atm{108}{40}{H}\Atm{63}{102}{H}\Atm{108}{102}{N}\Atm{154}{102}{H}}
% C00403
\Mol{a403}{0}{0}{11.5}{
 \Hex{283}{91}{58}{30}\Bo{(70,40)--(130,65)--(180,38)--(233,62)}\Bo{(333,120)--(375,140)}
 \Atm{57}{34}{H\lo{2}N}\Atm{404}{148}{OH}}
% C03758
\Mol{a3758}{0}{0}{12}{
 \Hex{280}{100}{58}{30}\Bo{(95,49)--(131,71)--(180,42)--(229,71)}\Bo{(330,71)--(365,50)}\Bo{(330,129)--(365,150)}
 \Atm{62}{42}{H\lo{2}N}\Atm{392}{41}{OH}\Atm{392}{157}{OH}}
% C00082
\Mm{a82}{
 \Hex{330}{163}{58}{30}\Dbl{(125,47)--(125,104)}\Bo{(85,125)--(125,104)--(177,134)--(225,104)--(280,134)}\Hsh{177}{134}{177}{172}\Bo{(380,192)--(420,210)}
 \Atm{125}{47}{O}\Atm{58}{132}{HO}\Atm{200}{192}{NH\lo{2}}\Atm{447}{222}{OH}}
% C00355
\Mm{a355}{
 \Dbl{(126,43)--(126,103)}\Bo{(85,120)--(126,103)--(178,131)--(229,105)--(281,128)--(331,101)--(380,128)--(415,110)}
 \Bo{(281,128)--(281,188)--(331,220)--(380,188)--(415,207)}\Hsh{178}{131}{178}{168}
 \Bo{(337,114)--(375,134)}\Bo{(293,135)--(293,180)}\Bo{(335,206)--(372,186)}
 \Atm{126}{43}{O}\Atm{59}{131}{HO}\Atm{201}{188}{NH\lo{2}}\Atm{446}{101}{OH}\Atm{446}{218}{OH}}
% C00822
\Mol{a822}{0}{0}{12.5}{
 \Dbl{(116,40)--(116,103)}\Bo{(75,122)--(116,103)--(165,131)--(217,105)--(266,131)}
 \Bo{(266,131)--(316,101)--(366,131)--(366,188)--(316,218)--(266,188)--cycle}\Hsh{165}{131}{165}{170}
 \Dbl{(366,131)--(418,106)}\Dbl{(366,188)--(415,221)}\Bo{(278,140)--(278,180)}\Bo{(275,130)--(312,112)}\Bo{(278,188)--(316,205)}
 \Atm{116}{40}{O}\Atm{54}{131}{HO}\Atm{184}{191}{NH\lo{2}}\Atm{418}{106}{O}\Atm{415}{221}{O}}
\end{tikzpicture}
\end{document}
